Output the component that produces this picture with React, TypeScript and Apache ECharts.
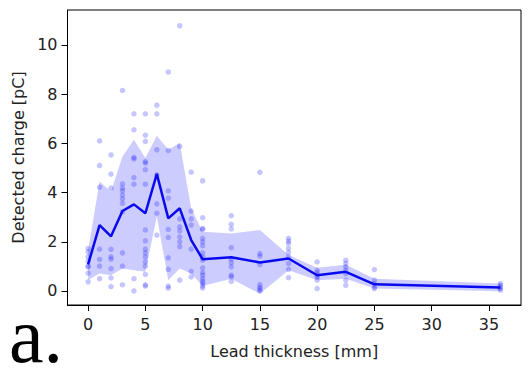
import React, { useEffect, useRef } from "react";
import * as echarts from "echarts";

// Lead thickness values (mm)
const thickness = [0, 1, 2, 3, 4, 5, 6, 7, 8, 9, 10, 12.5, 15, 17.5, 20, 22.5, 25, 36];
// mean detected charge (pC)
const meanCharge = [1.08, 2.68, 2.22, 3.25, 3.52, 3.16, 4.76, 2.95, 3.36, 2.07, 1.29, 1.37, 1.16, 1.32, 0.64, 0.78, 0.27, 0.14];
// shaded band
const bandUpper = [1.65, 4.45, 4.04, 5.47, 6.15, 5.4, 6.31, 5.74, 6.01, 3.36, 2.41, 2.34, 2.48, 1.46, 0.94, 1.07, 0.5, 0.3];
const bandLower = [0.45, 0.71, 0.64, 0.91, 0.84, 0.78, 3.03, 0.44, 0.91, 0.71, 0.2, 0.5, -0.11, 0.84, 0.44, 0.5, 0.1, -0.01];
// individual measurements, one list per thickness
const samples: number[][] = [
  [1.73, 1.59, 1.39, 1.21, 1.01, 0.98, 0.73, 0.37],
  [6.1, 5.1, 4.22, 1.7, 1.28, 1.01, 0.5],
  [5.53, 4.75, 4.18, 1.69, 1.39, 1.29, 0.91, 0.53, 0.18],
  [8.15, 4.35, 4.18, 4.07, 3.9, 3.74, 3.56, 3.22, 1.55, 1.01, 0.25],
  [7.2, 6.55, 5.43, 5.37, 4.61, 4.34, 0.5, 0.0],
  [7.2, 6.33, 6.08, 5.26, 5.2, 4.93, 4.34, 2.48, 2.04, 1.7, 1.55, 1.39, 1.18, 1.01, 0.67, 0.25, 0.2],
  [7.55, 7.2, 5.74, 4.72, 3.54, 3.16, 2.27],
  [8.9, 5.71, 4.07, 3.77, 2.5, 2.18, 1.35, 0.88, 0.2, 0.12],
  [10.78, 5.88, 2.93, 2.61, 2.44, 2.2, 2.0, 1.8, 0.44],
  [4.83, 3.25, 2.93, 2.68, 1.7, 0.8, 0.57],
  [4.48, 2.98, 2.54, 2.5, 2.14, 2.0, 1.84, 1.55, 1.39, 1.25, 0.94, 0.75, 0.64, 0.5, 0.39, 0.3, 0.2, 0.12],
  [3.06, 2.71, 2.52, 1.76, 1.29, 1.15, 0.98, 0.64, 0.57, 0.39],
  [4.82, 1.52, 1.42, 1.07, 0.26, 0.15, 0.07, 0.0],
  [2.14, 2.03, 1.93, 1.73, 1.56, 1.39, 1.12, 0.88, 0.54],
  [1.18, 0.84, 0.75, 0.64, 0.57, 0.44, 0.1],
  [1.25, 1.12, 0.98, 0.84, 0.71, 0.44, 0.23],
  [0.87, 0.44, 0.3, 0.16, 0.1],
  [0.3, 0.23, 0.16, 0.1, 0.03],
];
const xTicks = [0, 5, 10, 15, 20, 25, 30, 35];
const yTicks = [0, 2, 4, 6, 8, 10];

const FONT = "DejaVu Sans";
const FS = 16;

export default function App() {
  const ref = useRef<HTMLDivElement>(null);
  useEffect(() => {
    document.body.style.margin = "0";
    if (!ref.current) return;
    const chart = echarts.init(ref.current, undefined, { renderer: "svg" });
    const scatterData: number[][] = [];
    samples.forEach((vals, i) => vals.forEach((v) => scatterData.push([thickness[i], v])));
    const meanData = thickness.map((t, i) => [t, meanCharge[i]]);
    const axisCommon = {
      axisLine: { show: true, onZero: false, lineStyle: { color: "#000", width: 1 } },
      axisTick: { show: true, inside: false, length: 6, lineStyle: { color: "#000", width: 1 } },
      splitLine: { show: false },
      nameTextStyle: { fontFamily: FONT, fontSize: FS, color: "#222" },
    };
    chart.setOption({
      animation: false,
      grid: { left: 67.5, top: 10, right: 8, bottom: 63, show: true, borderColor: "#000", borderWidth: 1, backgroundColor: "transparent" },
      xAxis: {
        type: "value",
        min: -1.8,
        max: 37.8,
        name: "Lead thickness [mm]",
        nameLocation: "middle",
        nameGap: 38,
        ...axisCommon,
        axisTick: { ...axisCommon.axisTick, customValues: xTicks },
        axisLabel: { customValues: xTicks, fontFamily: FONT, fontSize: FS, color: "#222", margin: 11 },
      },
      yAxis: {
        type: "value",
        min: -0.57,
        max: 11.42,
        name: "Detected charge [pC]",
        nameLocation: "middle",
        nameGap: 40,
        ...axisCommon,
        axisTick: { ...axisCommon.axisTick, customValues: yTicks },
        axisLabel: { customValues: yTicks, fontFamily: FONT, fontSize: FS, color: "#222", margin: 10 },
      },
      series: [
        {
          type: "custom",
          data: [[0, 0]],
          silent: true,
          clip: true,
          renderItem: (params: any, api: any) => {
            const upper = thickness.map((t, i) => api.coord([t, bandUpper[i]]));
            const lower = thickness.map((t, i) => api.coord([t, bandLower[i]])).reverse();
            return {
              type: "polygon",
              shape: { points: upper.concat(lower) },
              style: { fill: "rgba(0,0,255,0.2)", stroke: "none" },
            };
          },
        },
        {
          type: "scatter",
          data: scatterData,
          symbolSize: 5.5,
          itemStyle: { color: "rgba(0,0,255,0.28)" },
        },
        {
          type: "line",
          data: meanData,
          symbol: "none",
          lineStyle: { color: "#0a0aee", width: 2.5 },
        },
      ],
      graphic: [
        {
          type: "text",
          left: 9,
          top: 296,
          style: { text: "a.", fontFamily: "Liberation Serif", fontSize: 78, lineHeight: 48, fill: "#000" },
        },
      ],
    });
    return () => chart.dispose();
  }, []);
  return <div ref={ref} style={{ width: 529, height: 368 }} />;
}
